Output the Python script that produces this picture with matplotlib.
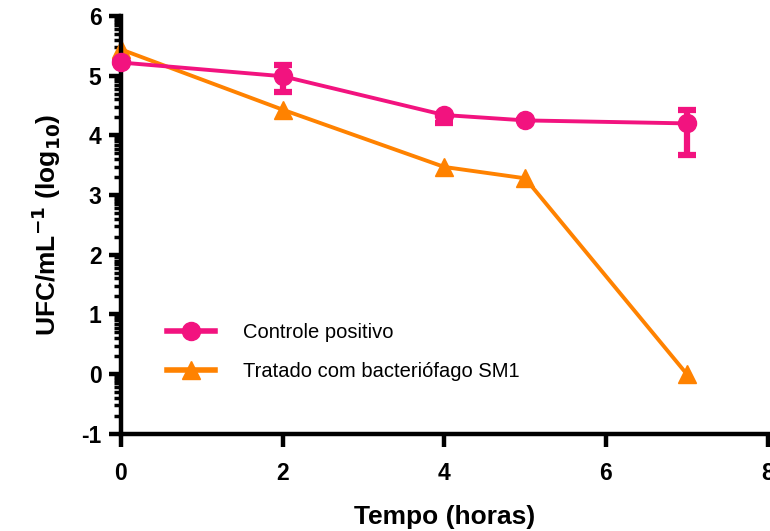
import numpy as np
import matplotlib
matplotlib.use("Agg")
import matplotlib.pyplot as plt
from matplotlib.ticker import FixedLocator
from matplotlib.lines import Line2D

plt.rcParams['font.family'] = ['Liberation Sans', 'DejaVu Sans']
plt.rcParams['axes.unicode_minus'] = False

horas = [0, 2, 4, 5, 7]
controle = [5.22, 4.99, 4.34, 4.25, 4.20]
controle_err_baixo = [0.0, 0.27, 0.14, 0.0, 0.53]
controle_err_alto = [0.0, 0.19, 0.0, 0.0, 0.22]
tratado = [5.44, 4.43, 3.47, 3.28, 0.0]

rosa = '#F2137F'
laranja = '#FF8200'

fig = plt.figure(figsize=(7.7, 5.31), dpi=100)
ax = fig.add_axes([0.157, 0.183, 0.840, 0.787])

ax.plot(horas, tratado, color=laranja, marker='^', markersize=13,
        linewidth=2.8, zorder=2, clip_on=False)
ax.errorbar(horas, controle, yerr=[controle_err_baixo, controle_err_alto],
            color=rosa, marker='o', markersize=13, linewidth=2.8,
            elinewidth=4.5, capsize=6.5, capthick=4.5, zorder=3, clip_on=False)

ax.set_xlim(0, 8)
ax.set_ylim(-1, 6)
ax.set_xticks([0, 2, 4, 6, 8])
ax.set_yticks(range(-1, 7))

# minor ticks spaced like log10 decades
minors = []
for k in range(-1, 6):
    for m in range(2, 10):
        minors.append(k + np.log10(m))
ax.yaxis.set_minor_locator(FixedLocator(minors))

for s in ['top', 'right']:
    ax.spines[s].set_visible(False)
for s in ['left', 'bottom']:
    ax.spines[s].set_linewidth(3.2)

ax.tick_params(axis='both', which='major', length=9, width=3.2, labelsize=16.5)
ax.tick_params(axis='y', which='minor', length=5, width=2.5)
ax.tick_params(axis='x', pad=11)
ax.tick_params(axis='y', pad=5)
for lab in ax.get_xticklabels() + ax.get_yticklabels():
    lab.set_fontweight('bold')

ax.set_xlabel('Tempo (horas)', fontsize=19, fontweight='bold', labelpad=15)
ax.set_ylabel(r'UFC/mL$^{\mathbf{-1}}$ (log$_{\mathbf{10}}$)', fontsize=19,
              fontweight='bold', labelpad=13)

handles = [
    Line2D([], [], color=rosa, marker='o', markersize=13, linewidth=4),
    Line2D([], [], color=laranja, marker='^', markersize=13, linewidth=4),
]
labels = ['Controle positivo', 'Tratado com bacteriófago SM1']
ax.legend(handles, labels, loc='upper left', bbox_to_anchor=(0.071, 0.265),
          frameon=False, fontsize=14.5, handlelength=2.4, labelspacing=1.0,
          handletextpad=1.4, borderpad=0, borderaxespad=0)

fig.savefig('out.png', dpi=100)
